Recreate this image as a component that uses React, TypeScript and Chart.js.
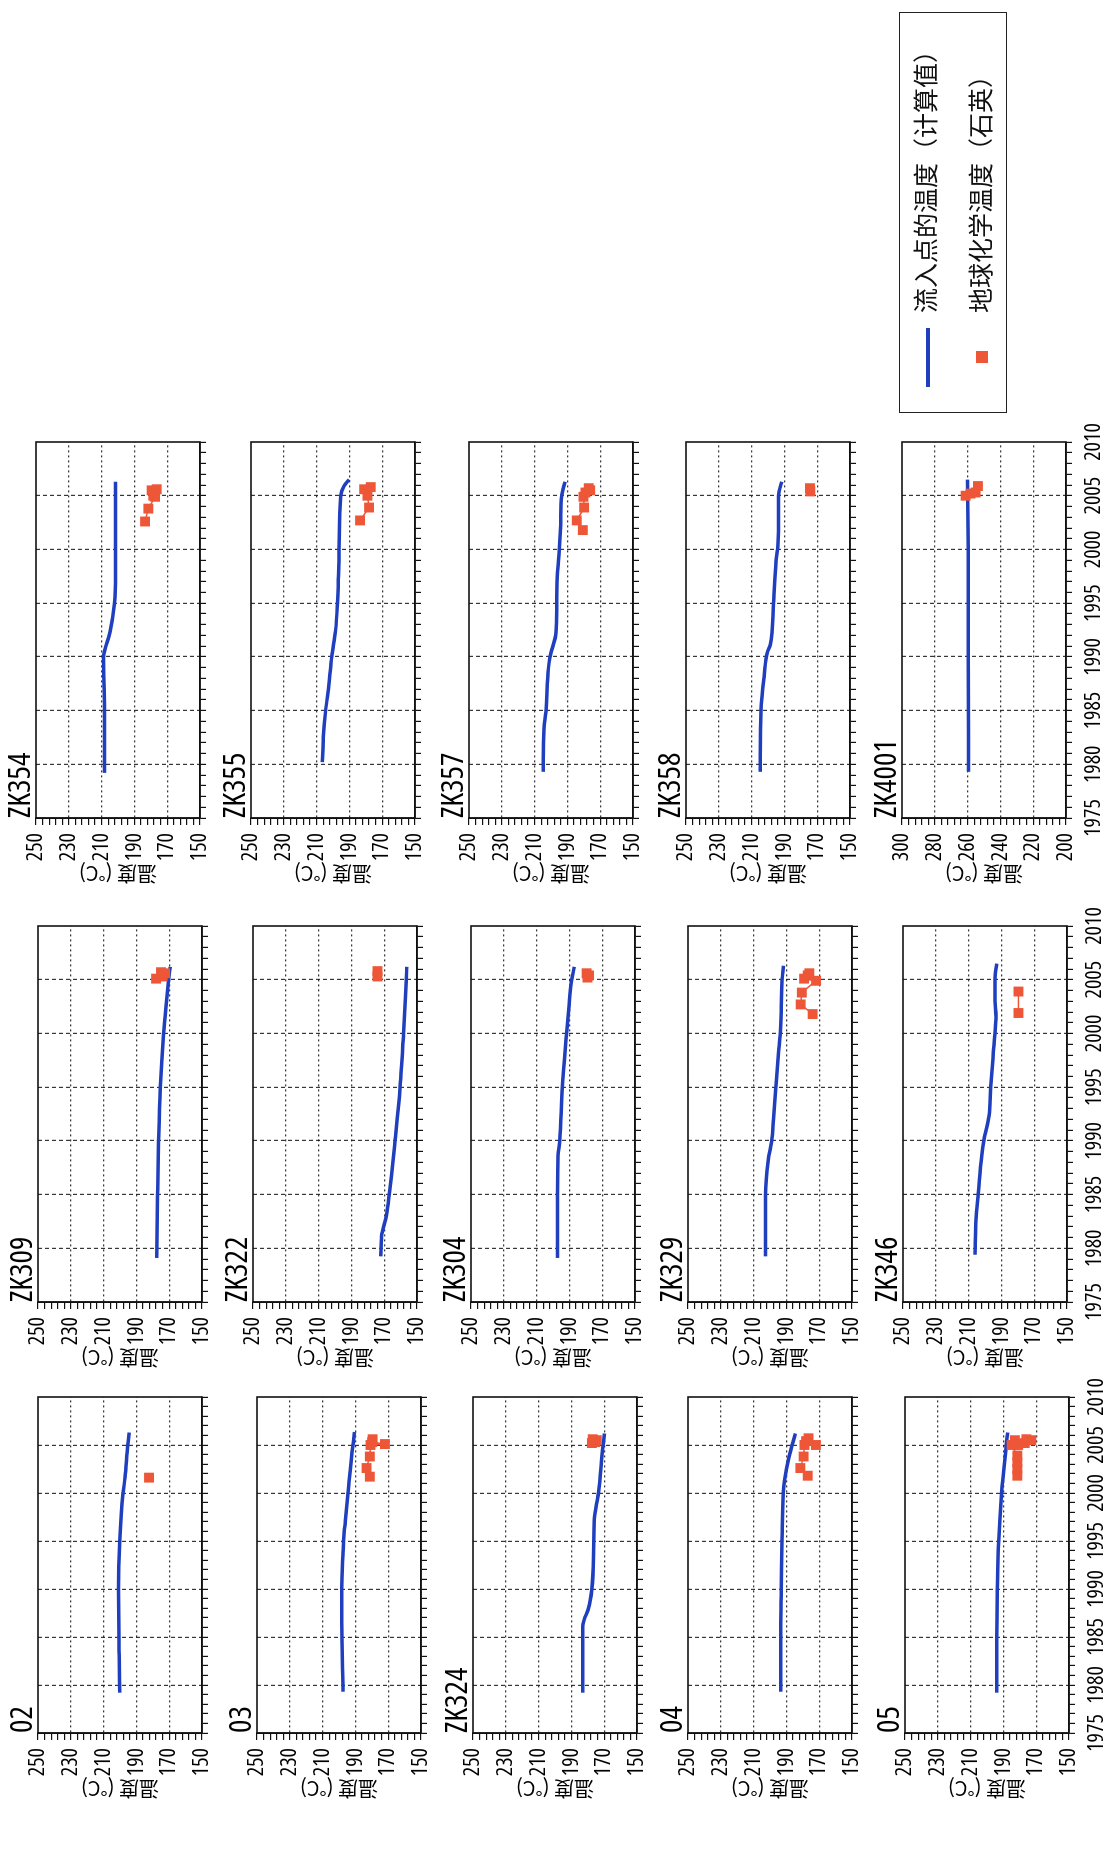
import React, { useEffect, useRef } from 'react';
import { Chart, registerables } from 'chart.js';

Chart.register(...registerables);

type Pt = [number, number];

// ---------------- data (year, °C) ----------------
const PANEL_NAMES = ['02', '03', 'ZK324', '04', '05', 'ZK309', 'ZK322', 'ZK304', 'ZK329', 'ZK346', 'ZK354', 'ZK355', 'ZK357', 'ZK358', 'ZK4001'];

const YEAR_TICKS = [1975, 1980, 1985, 1990, 1995, 2000, 2005, 2010];
const TEMP_TICKS = [250, 230, 210, 190, 170, 150];
const TEMP_TICKS_ZK4001 = [300, 280, 260, 240, 220, 200];

const SERIES_CALC = '流入点的温度（计算值）';
const SERIES_GEO = '地球化学温度（石英）';
const AXIS_TITLE = '温度 (°C)';

const calc02: Pt[] = [[1979.2, 200.1], [1983, 200.5], [1990, 200.9], [1995, 200.1], [2000, 198.1], [2001.6, 196.9], [2005, 195.3], [2006.3, 194.4]];
const geo02: Pt[] = [[2001.6, 182.3]];

const calc03: Pt[] = [[1979.3, 197.6], [1986.6, 198.3], [1990.1, 198.3], [1993.6, 197.6], [1995, 197.2], [1997, 196.2], [2000, 194.5], [2005, 191.5], [2006.35, 190.5]];
const geo03: Pt[] = [[2001.7, 181.2], [2002.6, 183.2], [2003.8, 181.2], [2005.0, 180.8], [2005.1, 172.0], [2005.3, 179.8], [2005.6, 179.5]];

const calcZK324: Pt[] = [[1979.2, 183.1], [1986.1, 183.1], [1986.8, 182.2], [1988, 179.6], [1989.9, 177.6], [1993.4, 176.5], [1997.2, 176.1], [2000, 173.5], [2004.9, 170.8], [2006.2, 169.8]];
const geoZK324: Pt[] = [[2005.2, 177.5], [2005.3, 175.5], [2005.5, 174.5], [2005.6, 177]];

const calc04: Pt[] = [[1979.3, 193.5], [1986.4, 193.5], [1989.9, 193.1], [1995.1, 192.7], [2000, 191.9], [2001.3, 191.1], [2003.75, 188.4], [2006.2, 184.5]];
const geo04: Pt[] = [[2001.8, 177], [2002.6, 181.5], [2003.8, 179.5], [2005.0, 179], [2005.0, 172], [2005.4, 178], [2005.7, 176.5]];

const calc05: Pt[] = [[1979.2, 194.1], [1984.9, 194.1], [1989.8, 193.7], [1995, 192.9], [1999.9, 191.1], [2004.7, 188.4], [2006.3, 187.4]];
const geo05: Pt[] = [[2001.8, 181.5], [2002.5, 181.5], [2003.2, 181.5], [2003.9, 181.5], [2005.0, 185], [2005.0, 181], [2005.2, 177], [2005.5, 173], [2005.5, 183], [2005.6, 176]];

const calcZK309: Pt[] = [[1979.1, 177.6], [1985, 177.1], [1990, 176.5], [1994.9, 175.5], [1999.9, 173.5], [2002.5, 172.0], [2004.9, 170.4], [2006.2, 169.4]];
const geoZK309: Pt[] = [[2005.1, 178], [2005.3, 174], [2005.6, 172.5], [2005.7, 175]];

const calcZK322: Pt[] = [[1979.25, 172.1], [1981.1, 171.6], [1983.1, 168.6], [1985, 166.9], [1990, 163.4], [1994.9, 160.3], [1999.9, 158.2], [2004.9, 156.6], [2006.2, 156.2]];
const geoZK322: Pt[] = [[2005.3, 174.1], [2005.8, 174.1]];

const calcZK304: Pt[] = [[1979.1, 197.3], [1985, 197.3], [1988.6, 196.9], [1990, 195.9], [1994.9, 194.4], [1999.9, 191.8], [2002.5, 190.3], [2004.9, 188.7], [2006.2, 187.0]];
const geoZK304: Pt[] = [[2005.2, 179], [2005.4, 178], [2005.6, 179.5]];

const calcZK329: Pt[] = [[1979.25, 202.7], [1985, 202.7], [1988.2, 201.0], [1990, 199.0], [1992, 197.9], [1994.9, 196.5], [1998.2, 194.8], [1999.9, 193.8], [2002.5, 193.1], [2004.9, 192.7], [2006.3, 191.7]];
const geoZK329: Pt[] = [[2001.8, 174], [2002.7, 181.3], [2003.8, 180.6], [2004.9, 171.9], [2005.1, 179.2], [2005.4, 177], [2005.6, 176]];

const calcZK346: Pt[] = [[1979.4, 206.1], [1982.7, 205.5], [1985.1, 204.1], [1988.6, 202.0], [1990.1, 200.6], [1992.3, 197.6], [1995.1, 196.5], [1998.2, 194.9], [2000, 193.9], [2001.6, 193.3], [2003, 193.9], [2005.1, 193.9], [2006.5, 192.9]];
const geoZK346: Pt[] = [[2001.9, 179.6], [2003.9, 179.6]];

const calcZK354: Pt[] = [[1979.2, 208.3], [1985, 208.3], [1990, 208.9], [1990.7, 207.9], [1992.3, 204.9], [1995, 202.2], [1997.6, 201.6], [2000, 201.6], [2005, 201.6], [2006.3, 201.6]];
const geoZK354: Pt[] = [[2002.6, 183.5], [2003.8, 181.5], [2004.9, 177.4], [2005.0, 178.5], [2005.5, 179.5], [2005.6, 176.4]];

const calcZK355: Pt[] = [[1980.2, 206.5], [1982.5, 205.9], [1985, 204.5], [1987.5, 202.4], [1990, 200.8], [1992.5, 198.4], [1995, 197.3], [1997.5, 196.7], [2000, 196.3], [2005, 195.3], [2005.9, 193.3], [2006.5, 190.2]];
const geoZK355: Pt[] = [[2002.7, 183.5], [2003.9, 178], [2005.0, 179], [2005.6, 181], [2005.8, 177]];

const calcZK357: Pt[] = [[1979.3, 204.7], [1983.3, 204.3], [1984.9, 203.1], [1988.9, 201.6], [1990, 200.6], [1992.3, 196.9], [1995, 196.5], [1997.9, 196.1], [1999.9, 194.9], [2002.3, 194.1], [2005, 193.5], [2006.3, 191.4]];
const geoZK357: Pt[] = [[2001.8, 180.6], [2002.7, 184.3], [2003.9, 179.8], [2004.9, 180.2], [2005.3, 179], [2005.5, 176.1], [2005.7, 177]];

const calcZK358: Pt[] = [[1979.3, 204.7], [1985, 204.3], [1988.3, 202.3], [1990.5, 200.2], [1991.1, 198.6], [1995, 196.7], [1998.9, 195.1], [2000.1, 194.1], [2002.3, 193.6], [2005, 193.6], [2006.3, 191.6]];
const geoZK358: Pt[] = [[2005.4, 174.2], [2005.7, 174.4]];

const calcZK4001: Pt[] = [[1979.3, 259.4], [1990, 259.6], [2000, 259.6], [2006.5, 260]];
const geoZK4001: Pt[] = [[2005.0, 261.2], [2005.2, 258.2], [2005.3, 255.1], [2005.9, 253.7]];

const CALC_SERIES: Pt[][] = [calc02, calc03, calcZK324, calc04, calc05, calcZK309, calcZK322, calcZK304, calcZK329, calcZK346, calcZK354, calcZK355, calcZK357, calcZK358, calcZK4001];
const GEO_SERIES: Pt[][] = [geo02, geo03, geoZK324, geo04, geo05, geoZK309, geoZK322, geoZK304, geoZK329, geoZK346, geoZK354, geoZK355, geoZK357, geoZK358, geoZK4001];

// ---------------- layout / style (unrotated frame 1874 x 1109) ----------------
const COL_LEFT = [141, 572, 1056];
const COL_WIDTH = [336, 376, 376];
const ROW_TOPS = [
  [38, 257, 473, 688, 905],
  [38, 253, 471, 688, 903],
  [36, 251, 469, 686, 902],
];
const PLOT_H = 164;

const BLUE = '#1f3fbf';
const RED = '#ee5638';
const GRID = 'rgba(20,20,20,0.85)';
const CJK = "'Noto Sans CJK SC', 'Noto Sans CJK JP', sans-serif";

type NarrowFont = { family: string; weight: string; scale: number };

// choose a condensed face if one is installed; otherwise shrink a regular one
function pickNarrowFont(): NarrowFont {
  const fallback: NarrowFont = { family: "'Liberation Sans', Arial, sans-serif", weight: 'normal', scale: 0.8 };
  try {
    const ctx = document.createElement('canvas').getContext('2d');
    if (!ctx) return fallback;
    const cands = [
      { family: "'Liberation Sans Narrow'", weight: 'normal' },
      { family: "'Arial Narrow'", weight: 'normal' },
      { family: "'Noto Sans'", weight: 'condensed' },
      { family: "'Open Sans'", weight: 'condensed' },
      { family: "'DejaVu Sans Condensed'", weight: 'normal' },
      { family: "'Roboto Condensed'", weight: 'normal' },
    ];
    for (const c of cands) {
      const f = `normal ${c.weight} 100px ${c.family}, monospace`;
      ctx.font = '10px monospace';
      ctx.font = f;
      if (ctx.font === '10px monospace') continue;
      const w = ctx.measureText('2010').width;
      if (w > 0 && w < 200) {
        return { family: `${c.family}, 'Liberation Sans', sans-serif`, weight: c.weight, scale: Math.min(1.05, 183 / w) };
      }
    }
  } catch (e) {
    // ignore
  }
  return fallback;
}

const framePlugin = {
  id: 'frame',
  afterDraw(chart: any) {
    const { ctx, chartArea: a } = chart;
    ctx.save();
    ctx.strokeStyle = '#111';
    ctx.lineWidth = 1.6;
    ctx.strokeRect(a.left, a.top, a.right - a.left, a.bottom - a.top);
    ctx.restore();
  },
};

type PanelProps = {
  name: string;
  calc: Pt[];
  geo: Pt[];
  left: number;
  top: number;
  width: number;
  height: number;
  tempTicks: number[];
  showYears: boolean;
  nf: NarrowFont;
};

function Panel({ name, calc, geo, left, top, width, height, tempTicks, showYears, nf }: PanelProps) {
  const ref = useRef<HTMLCanvasElement | null>(null);
  const cw = width + 110;
  const ch = height + 82;
  useEffect(() => {
    const canvas = ref.current;
    if (!canvas) return;
    const yMax = Math.max(...tempTicks);
    const yMin = Math.min(...tempTicks);
    const tickFont = { family: nf.family, weight: nf.weight, size: Math.round(21 * nf.scale * 10) / 10 };
    const chart = new Chart(canvas, {
      type: 'line',
      data: {
        datasets: [
          {
            label: SERIES_GEO,
            data: geo.map(([x, y]) => ({ x, y })),
            borderColor: RED,
            backgroundColor: RED,
            borderWidth: 1.5,
            showLine: true,
            pointStyle: 'rect',
            pointRadius: 7,
            pointBorderWidth: 0,
            pointBackgroundColor: RED,
            order: 1,
          },
          {
            label: SERIES_CALC,
            data: calc.map(([x, y]) => ({ x, y })),
            borderColor: BLUE,
            borderWidth: 3.5,
            pointRadius: 0,
            cubicInterpolationMode: 'monotone',
            order: 2,
          },
        ],
      },
      options: {
        responsive: false,
        animation: false,
        events: [],
        layout: { padding: { left: 12, top: 10, right: 30, bottom: 2 } },
        plugins: {
          legend: { display: false },
          tooltip: { enabled: false },
          title: {
            display: true,
            text: name,
            align: 'start',
            fullSize: false,
            color: '#000',
            font: { family: nf.family, weight: nf.weight, size: Math.round(30 * nf.scale * 10) / 10, lineHeight: 30 / Math.round(30 * nf.scale * 10) * 10 },
            padding: { top: 0, bottom: 0 },
          },
        },
        scales: {
          x: {
            type: 'linear',
            min: 1975,
            max: 2010,
            afterFit: (s: any) => { s.height = 40; },
            ticks: {
              display: showYears,
              stepSize: 1,
              autoSkip: false,
              maxRotation: 0,
              minRotation: 0,
              padding: 8,
              color: '#000',
              font: tickFont,
              callback: (v: any) => (YEAR_TICKS.includes(Number(v)) ? String(v) : ''),
            },
            grid: {
              color: (c: any) => {
                const v = c.tick ? c.tick.value : 0;
                return v % 5 === 0 && v > 1975 && v < 2010 ? GRID : 'rgba(0,0,0,0)';
              },
              lineWidth: 1.2,
              tickLength: 6,
              tickColor: '#111',
              tickWidth: 1.2,
            },
            border: { display: true, color: '#111', width: 1.6, dash: [4, 3] },
          },
          y: {
            type: 'linear',
            min: yMin,
            max: yMax,
            afterFit: (s: any) => { s.width = 68; },
            ticks: {
              stepSize: 4,
              autoSkip: false,
              padding: 8,
              color: '#000',
              font: tickFont,
              callback: (v: any) => (tempTicks.includes(Number(v)) ? String(v) : ''),
            },
            title: {
              display: true,
              text: AXIS_TITLE,
              color: '#000',
              font: { family: CJK, size: 20, lineHeight: 1.2 },
              padding: { top: 0, bottom: 0 },
            },
            grid: {
              color: (c: any) => {
                const v = c.tick ? c.tick.value : yMin;
                return (v - yMin) % 20 === 0 && v > yMin && v < yMax ? GRID : 'rgba(0,0,0,0)';
              },
              lineWidth: 1.2,
              tickLength: 7,
              tickColor: '#111',
              tickWidth: 1.2,
            },
            border: { display: true, color: '#111', width: 1.6, dash: [2, 3] },
          },
        },
      } as any,
      plugins: [framePlugin],
    } as any);
    return () => chart.destroy();
  }, []);
  return (
    <canvas
      ref={ref}
      width={cw}
      height={ch}
      style={{ position: 'absolute', left: left - 80, top: top - 40, width: cw, height: ch }}
    />
  );
}

function Legend() {
  return (
    <div
      style={{
        position: 'absolute',
        left: 1461,
        top: 899,
        width: 401,
        height: 108,
        border: '1.6px solid #222',
        boxSizing: 'border-box',
        background: '#fff',
        fontFamily: CJK,
        fontSize: 25,
        color: '#111',
      }}
    >
      <div style={{ position: 'absolute', left: 25, top: 26, width: 59, height: 4, background: BLUE }} />
      <div style={{ position: 'absolute', left: 49, top: 76, width: 12, height: 12, background: RED }} />
      <div style={{ position: 'absolute', left: 99, top: 8, lineHeight: '32px', whiteSpace: 'nowrap' }}>{SERIES_CALC}</div>
      <div style={{ position: 'absolute', left: 99, top: 63, lineHeight: '32px', whiteSpace: 'nowrap' }}>{SERIES_GEO}</div>
    </div>
  );
}

export default function App() {
  useEffect(() => {
    document.documentElement.style.overflow = 'hidden';
    document.body.style.margin = '0';
  }, []);
  const nf = pickNarrowFont();
  const panels = PANEL_NAMES.map((name, i) => {
    const col = Math.floor(i / 5);
    const row = i % 5;
    return (
      <Panel
        key={name}
        name={name}
        calc={CALC_SERIES[i]}
        geo={GEO_SERIES[i]}
        left={COL_LEFT[col]}
        top={ROW_TOPS[col][row]}
        width={COL_WIDTH[col]}
        height={PLOT_H}
        tempTicks={name === 'ZK4001' ? TEMP_TICKS_ZK4001 : TEMP_TICKS}
        showYears={row === 4}
        nf={nf}
      />
    );
  });
  return (
    <div style={{ position: 'absolute', left: 0, top: 0, width: 1109, height: 1874, overflow: 'hidden', background: '#fff' }}>
      <div
        style={{
          position: 'absolute',
          left: 0,
          top: 0,
          width: 1874,
          height: 1109,
          transformOrigin: '0 0',
          transform: 'translate(0px, 1874px) rotate(-90deg)',
        }}
      >
        {panels}
        <Legend />
      </div>
    </div>
  );
}
